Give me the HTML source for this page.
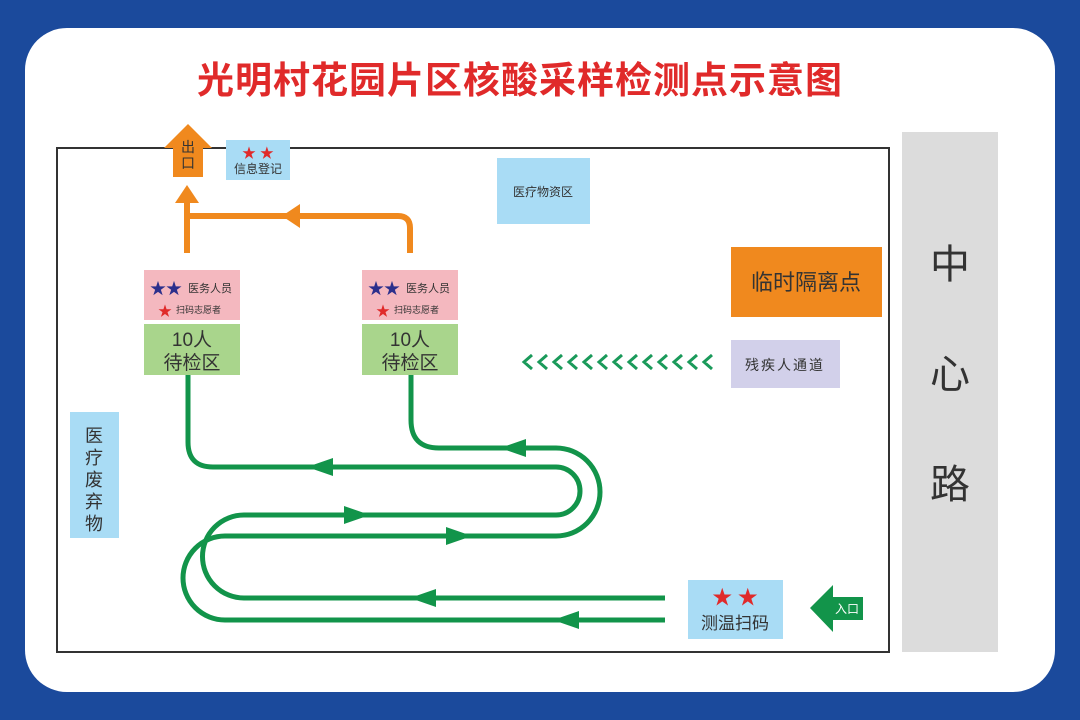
<!DOCTYPE html>
<html><head><meta charset="utf-8"><style>
body{margin:0;width:1080px;height:720px;overflow:hidden;background:#1b4a9c}
svg{display:block}
text{font-family:"Liberation Sans","Noto Sans CJK SC",sans-serif}
</style></head><body>
<svg width="1080" height="720" viewBox="0 0 1080 720" xmlns="http://www.w3.org/2000/svg">
<rect width="1080" height="720" fill="#1b4a9c"/>
<rect x="25" y="28" width="1030" height="664" rx="42" fill="#fff"/>
<text x="520" y="93" font-size="37" font-weight="bold" fill="#e02a2a" text-anchor="middle" letter-spacing="1">光明村花园片区核酸采样检测点示意图</text>
<rect x="57" y="148" width="832" height="504" fill="none" stroke="#333" stroke-width="2"/>
<rect x="902" y="132" width="96" height="520" fill="#dcdcdc"/>
<text x="950" y="278" font-size="40" fill="#333" text-anchor="middle">中</text>
<text x="950" y="388" font-size="40" fill="#333" text-anchor="middle">心</text>
<text x="950" y="498" font-size="40" fill="#333" text-anchor="middle">路</text>
<!-- exit arrow -->
<polygon points="164,148 188,124 212,148 203,148 203,177 173,177 173,148" fill="#f0891e"/>
<text x="188" y="152" font-size="14" fill="#333" text-anchor="middle">出</text>
<text x="188" y="168" font-size="14" fill="#333" text-anchor="middle">口</text>
<rect x="226" y="140" width="64" height="40" fill="#a9dcf5"/>
<text x="258" y="158" font-size="14" fill="#e02a2a" text-anchor="middle">★ ★</text>
<text x="258" y="173" font-size="12" fill="#333" text-anchor="middle">信息登记</text>
<rect x="497" y="158" width="93" height="66" fill="#a9dcf5"/>
<text x="543" y="196" font-size="12" fill="#333" text-anchor="middle">医疗物资区</text>
<!-- orange paths -->
<path d="M187,253 V200 M187,216 H398 Q410,216 410,228 V253" fill="none" stroke="#f0891e" stroke-width="6"/>
<polygon points="187,185 175,203 199,203" fill="#f0891e"/>
<polygon points="282,216 300,204 300,228" fill="#f0891e"/>
<!-- left box -->
<rect x="144" y="270" width="96" height="50" fill="#f4b8bf"/>
<text x="150" y="294" font-size="16" fill="#2b2f8c">★★</text>
<text x="188" y="292" font-size="11" fill="#333">医务人员</text>
<text x="158" y="316" font-size="14" fill="#e02a2a">★</text>
<text x="176" y="313" font-size="9" fill="#333">扫码志愿者</text>
<rect x="144" y="324" width="96" height="51" fill="#a9d58c"/>
<text x="192" y="346" font-size="19" fill="#333" text-anchor="middle">10人</text>
<text x="192" y="369" font-size="19" fill="#333" text-anchor="middle">待检区</text>
<!-- right box -->
<rect x="362" y="270" width="96" height="50" fill="#f4b8bf"/>
<text x="368" y="294" font-size="16" fill="#2b2f8c">★★</text>
<text x="406" y="292" font-size="11" fill="#333">医务人员</text>
<text x="376" y="316" font-size="14" fill="#e02a2a">★</text>
<text x="394" y="313" font-size="9" fill="#333">扫码志愿者</text>
<rect x="362" y="324" width="96" height="51" fill="#a9d58c"/>
<text x="410" y="346" font-size="19" fill="#333" text-anchor="middle">10人</text>
<text x="410" y="369" font-size="19" fill="#333" text-anchor="middle">待检区</text>
<!-- isolation -->
<rect x="731" y="247" width="151" height="70" fill="#f0891e"/>
<text x="806" y="290" font-size="22" fill="#333" text-anchor="middle">临时隔离点</text>
<rect x="731" y="340" width="109" height="48" fill="#d2d0ea"/>
<text x="785" y="370" font-size="14" fill="#333" text-anchor="middle" letter-spacing="2">残疾人通道</text>
<g fill="none" stroke="#1a9a5a" stroke-width="3">
<path d="M532,355 L524,362 L532,369 M547,355 L539,362 L547,369 M562,355 L554,362 L562,369 M577,355 L569,362 L577,369 M592,355 L584,362 L592,369 M607,355 L599,362 L607,369 M622,355 L614,362 L622,369 M637,355 L629,362 L637,369 M652,355 L644,362 L652,369 M667,355 L659,362 L667,369 M682,355 L674,362 L682,369 M697,355 L689,362 L697,369 M712,355 L704,362 L712,369"/>
</g>
<!-- waste -->
<rect x="70" y="412" width="49" height="126" fill="#a9dcf5"/>
<text x="94" y="442" font-size="18" fill="#333" text-anchor="middle">医</text>
<text x="94" y="464" font-size="18" fill="#333" text-anchor="middle">疗</text>
<text x="94" y="486" font-size="18" fill="#333" text-anchor="middle">废</text>
<text x="94" y="508" font-size="18" fill="#333" text-anchor="middle">弃</text>
<text x="94" y="530" font-size="18" fill="#333" text-anchor="middle">物</text>
<!-- green paths -->
<g fill="none" stroke="#12944a" stroke-width="5">
<path d="M188,375 V442 Q188,467 213,467 H556 A24,24 0 0 1 556,515 H244 A41.5,41.5 0 0 0 244,598 H665"/>
<path d="M411,375 V420 Q411,448 439,448 H556 A44,44 0 0 1 556,536 H225 A42,42 0 0 0 225,620 H665"/>
</g>
<g fill="#12944a">
<polygon points="307,467 333,458 333,476"/>
<polygon points="370,515 344,506 344,524"/>
<polygon points="410,598 436,589 436,607"/>
<polygon points="500,448 526,439 526,457"/>
<polygon points="472,536 446,527 446,545"/>
<polygon points="553,620 579,611 579,629"/>
</g>
<rect x="688" y="580" width="95" height="59" fill="#a9dcf5"/>
<text x="735" y="604" font-size="20" fill="#e02a2a" text-anchor="middle">★ ★</text>
<text x="735" y="629" font-size="17" fill="#333" text-anchor="middle">测温扫码</text>
<polygon points="810,608 833,585 833,597 863,597 863,620 833,620 833,632" fill="#12944a"/>
<text x="847" y="613" font-size="12" fill="#fff" text-anchor="middle">入口</text>
</svg>
</body></html>
